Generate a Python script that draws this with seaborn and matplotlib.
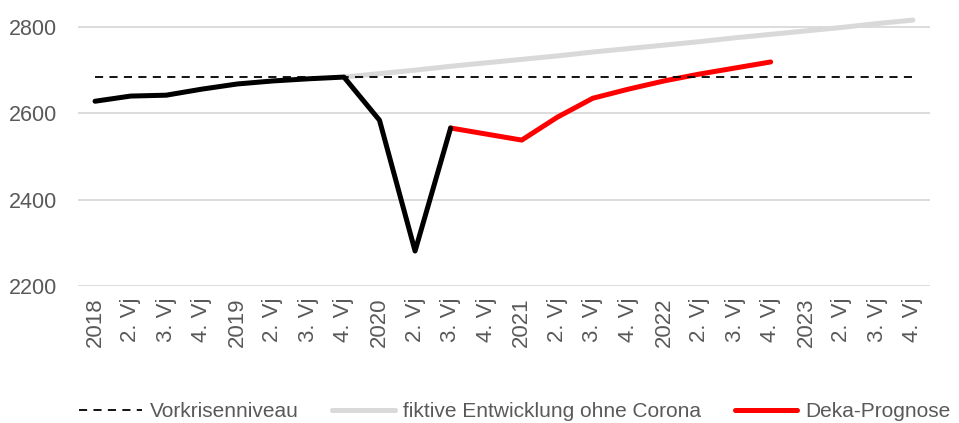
import numpy as np
import pandas as pd
import matplotlib
matplotlib.use("Agg")
import matplotlib.pyplot as plt
import seaborn as sns

quarters = ["2018", "2. Vj", "3. Vj", "4. Vj",
            "2019", "2. Vj", "3. Vj", "4. Vj",
            "2020", "2. Vj", "3. Vj", "4. Vj",
            "2021", "2. Vj", "3. Vj", "4. Vj",
            "2022", "2. Vj", "3. Vj", "4. Vj",
            "2023", "2. Vj", "3. Vj", "4. Vj"]

# actual values 2018 .. 3. Vj 2020
ist = [2628, 2640, 2642, 2656, 2668, 2675, 2680, 2684, 2584, 2281, 2566]
# Deka forecast 3. Vj 2020 .. 4. Vj 2022
prognose = [2566, 2552, 2538, 2591, 2635, 2656, 2675, 2691, 2705, 2719]
# fictitious path without Corona 4. Vj 2019 .. 4. Vj 2023
ohne_corona = [2684, 2692, 2700, 2709, 2717, 2725, 2733, 2742, 2750,
               2758, 2766, 2775, 2783, 2791, 2799, 2808, 2816]
vorkrise = 2684

sns.set_theme(style="white")
plt.rcParams["font.family"] = ["Liberation Sans", "DejaVu Sans"]

idx = np.arange(len(quarters))
i_ist = idx[:len(ist)]
i_prog = idx[len(ist) - 1:len(ist) - 1 + len(prognose)]
i_ohne = idx[len(idx) - len(ohne_corona):]

fig = plt.figure(figsize=(9.59, 4.23), dpi=100)
ax = fig.add_axes([0.0813, 0.3239, 0.8884, 0.6633])

grey = "#d9d9d9"
txt = "#595959"
lw = 3.6

sns.lineplot(x=i_ohne, y=ohne_corona, ax=ax, color=grey, lw=lw,
             solid_capstyle="round", zorder=2, sort=False)
sns.lineplot(x=i_prog, y=prognose, ax=ax, color="#ff0000", lw=lw,
             solid_capstyle="round", zorder=3, sort=False)
sns.lineplot(x=idx, y=[vorkrise] * len(idx), ax=ax, color="black", lw=1.3,
             zorder=4, sort=False)
ax.lines[-1].set_dashes([4.5, 3.5])
sns.lineplot(x=i_ist, y=ist, ax=ax, color="black", lw=lw,
             solid_capstyle="round", solid_joinstyle="round", zorder=5, sort=False)

ax.set_xlim(-0.48, len(quarters) - 0.52)
ax.set_ylim(2200, 2850)
ax.set_yticks([2200, 2400, 2600, 2800])
ax.set_xticks(idx)
ax.set_xticklabels(quarters, rotation=90, color=txt, fontsize=16)
ax.tick_params(axis="y", labelcolor=txt, labelsize=15.5, length=0, pad=15)
ax.tick_params(axis="x", length=0, pad=8)
ax.grid(axis="y", color=grey, lw=1.3)
ax.set_axisbelow(True)
for s in ax.spines.values():
    s.set_visible(False)
ax.set_xlabel("")
ax.set_ylabel("")

handles = [
    plt.Line2D([], [], color="black", lw=1.3, dashes=[4.5, 3.5]),
    plt.Line2D([], [], color=grey, lw=lw, solid_capstyle="round"),
    plt.Line2D([], [], color="#ff0000", lw=lw, solid_capstyle="round"),
]
labels = ["Vorkrisenniveau", "fiktive Entwicklung ohne Corona", "Deka-Prognose"]
fig.legend(handles, labels, loc="lower center", bbox_to_anchor=(0.537, -0.04),
           ncol=3, frameon=False, fontsize=15, labelcolor=txt,
           handlelength=3.0, handletextpad=0.4, columnspacing=1.6)

fig.savefig("out.png", dpi=100)
